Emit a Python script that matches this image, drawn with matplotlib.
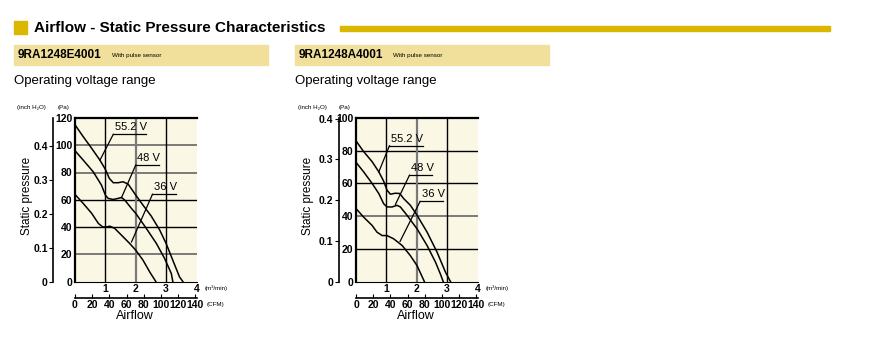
import matplotlib
matplotlib.use("Agg")
import matplotlib.pyplot as plt
from matplotlib.patches import Rectangle

plt.rcParams["font.family"] = ["Liberation Sans", "DejaVu Sans"]

W, H = 885, 353

# --- data: airflow (m3/min) vs static pressure (Pa) ---
e_552_x = [0, 0.27, 0.55, 0.82, 1.0, 1.13, 1.26, 1.42, 1.58, 1.75, 2.0, 2.24, 2.51, 2.79, 3.0, 3.22, 3.44, 3.55]
e_552_y = [115, 106.3, 97.7, 89.1, 82.3, 75.7, 72.5, 72.5, 73.2, 71.5, 63.4, 56, 48, 37.7, 27.9, 15.6, 3.4, 0]
e_48_x = [0, 0.27, 0.6, 0.87, 1.0, 1.09, 1.26, 1.42, 1.53, 1.64, 1.86, 2.0, 2.35, 2.68, 2.95, 3.17, 3.22]
e_48_y = [96, 89.1, 80.5, 70.8, 63.4, 61, 60.2, 61, 61.7, 59.7, 53.6, 50, 38.9, 27.9, 16.9, 5.9, 0]
e_36_x = [0, 0.27, 0.55, 0.77, 0.91, 1.04, 1.15, 1.31, 1.53, 1.8, 2.0, 2.24, 2.46, 2.66]
e_36_y = [63.9, 57.3, 50, 42.6, 40.1, 40.1, 40.6, 38.9, 34, 27.9, 23, 15.6, 7, 0]

a_552_x = [0, 0.25, 0.53, 0.75, 0.91, 1.02, 1.13, 1.3, 1.44, 1.57, 1.79, 2.01, 2.34, 2.67, 2.95, 3.11]
a_552_y = [86, 79.5, 73.3, 67.1, 61.4, 55.9, 53.4, 54, 53.8, 50.7, 46.6, 40.5, 30.2, 17.9, 5.5, 0]
a_48_x = [0, 0.25, 0.53, 0.75, 0.91, 1.02, 1.19, 1.35, 1.46, 1.68, 2.01, 2.34, 2.62, 2.78, 2.87]
a_48_y = [72.9, 67.1, 60, 53.8, 47.6, 45.6, 45.6, 46.6, 45.6, 40.5, 32.2, 22, 11.7, 4.5, 0]
a_36_x = [0, 0.25, 0.53, 0.69, 0.86, 1.02, 1.24, 1.52, 1.79, 2.01, 2.25]
a_36_y = [44.6, 39.4, 34.3, 30.2, 28.1, 28.1, 26.1, 22, 15.8, 9.7, 0]

voltages = ["55.2 V", "48 V", "36 V"]
# label underline (x0, x1, y) and leader target (x, y)
e_labels = [(1.26, 2.33, 108, 0.82, 89), (2.0, 2.77, 85.5, 1.53, 61.5), (2.55, 3.33, 64, 1.86, 29)]
a_labels = [(1.1, 2.2, 83, 0.75, 67), (1.76, 2.5, 65, 1.3, 47.2), (2.11, 2.87, 49, 1.45, 24.5)]

models = ["9RA1248E4001", "9RA1248A4001"]
pa_ticks_e = [0, 20, 40, 60, 80, 100, 120]
pa_ticks_a = [0, 20, 40, 60, 80, 100]
inch_ticks_e = [0, 0.1, 0.2, 0.3, 0.4]
inch_ticks_a = [0, 0.1, 0.2, 0.3, 0.4]
cfm_ticks = [0, 20, 40, 60, 80, 100, 120, 140]
m3_ticks = [1, 2, 3, 4]

PA_PER_INCH = 249.09
CFM_PER_M3 = 35.315

CREAM = "#FBF7E5"
BAND = "#F0E09C"
GOLD = "#DBB700"
GRAY = "#7a7a7a"
NARROW = ["Liberation Sans Narrow", "Liberation Sans", "DejaVu Sans"]


def fx(px):
    return px / W


def fy(py):
    return 1 - py / H


def style_ticks(labels):
    for t in labels:
        t.set_family(NARROW)
        t.set_fontweight("bold")
        t.set_fontsize(7.5)


fig = plt.figure(figsize=(W / 100, H / 100), dpi=100)

# header
fig.patches.append(Rectangle((fx(14), fy(34)), 13 / W, 13 / H, transform=fig.transFigure,
                             color=GOLD, zorder=0))
fig.text(fx(34), fy(27.5), "Airflow - Static Pressure Characteristics", fontsize=11,
         fontweight="bold", va="center", ha="left")
fig.patches.append(Rectangle((fx(340), fy(31)), 490 / W, 5 / H, transform=fig.transFigure,
                             color=GOLD, zorder=0))


def draw_chart(band_x, axl, model, sens_px, curves, labels, ymax, pa_ticks, inch_ticks,
               hgrid_dark, inch_off, cfm_off):
    fig.patches.append(Rectangle((fx(band_x), fy(65)), 254 / W, 20 / H, transform=fig.transFigure,
                                 color=BAND, zorder=0))
    fig.text(fx(band_x + 4), fy(55.5), model, fontsize=8.5, fontweight="bold", va="center")
    fig.text(fx(sens_px), fy(56), "With pulse sensor", fontsize=4.5, va="center")
    fig.text(fx(band_x), fy(81), "Operating voltage range", fontsize=9.5, va="center")

    ax = fig.add_axes([fx(axl), fy(281.5), 121.5 / W, 163.5 / H])
    ax.set_facecolor(CREAM)
    ax.set_xlim(0, 4)
    ax.set_ylim(0, ymax)

    for v in pa_ticks[1:-1]:
        dark = v in hgrid_dark
        ax.axhline(v, color="black" if dark else GRAY, lw=1.0 if dark else 1.4, zorder=1)
    for v in m3_ticks[:-1]:
        dark = v != 2
        ax.axvline(v, color="black" if dark else GRAY, lw=1.0 if dark else 1.6, zorder=1)

    for (xs, ys) in curves:
        ax.plot(xs, ys, color="black", lw=1.1, zorder=3, clip_on=False)

    for name, (x0, x1, yl, tx, ty) in zip(voltages, labels):
        ax.plot([x0, x1], [yl, yl], color="black", lw=0.9, zorder=4)
        ax.plot([x0, tx], [yl, ty], color="black", lw=0.9, zorder=4)
        ax.text(x0 + 0.05, yl + ymax * 0.012, name, fontsize=8, ha="left", va="bottom", zorder=5)

    ax.spines["right"].set_visible(False)
    ax.spines["left"].set_linewidth(1.6)
    ax.spines["top"].set_linewidth(1.6)
    ax.spines["bottom"].set_linewidth(0.8)

    ax.set_yticks(pa_ticks)
    ax.set_yticklabels([str(v) for v in pa_ticks])
    ax.set_xticks(m3_ticks)
    ax.set_xticklabels([str(v) for v in m3_ticks])
    ax.tick_params(axis="both", length=0, pad=2)
    style_ticks(ax.get_xticklabels() + ax.get_yticklabels())

    sy = ax.secondary_yaxis(inch_off, functions=(lambda p: p / PA_PER_INCH, lambda i: i * PA_PER_INCH))
    sy.set_yticks(inch_ticks)
    sy.set_yticklabels(["0" if v == 0 else f"{v:.1f}" for v in inch_ticks])
    sy.tick_params(axis="y", length=3, width=0.8, pad=1)
    sy.spines["left"].set_linewidth(1.2)
    style_ticks(sy.get_yticklabels())

    sx = ax.secondary_xaxis(cfm_off, functions=(lambda m: m * CFM_PER_M3, lambda c: c / CFM_PER_M3))
    sx.set_xticks(cfm_ticks)
    sx.set_xticklabels([str(v) for v in cfm_ticks])
    sx.tick_params(axis="x", direction="in", length=3, width=0.8, pad=1.5)
    sx.spines["bottom"].set_linewidth(1.2)
    style_ticks(sx.get_xticklabels())

    fig.text(fx(axl + 130), fy(288), "(m³/min)", fontsize=4.5, va="center")
    fig.text(fx(axl + 132), fy(304.5), "(CFM)", fontsize=4.5, va="center")
    fig.text(fx(axl - 58), fy(107), "(inch H\u2082O)", fontsize=4.5, va="center")
    fig.text(fx(axl - 17), fy(107), "(Pa)", fontsize=4.5, va="center")
    fig.text(fx(axl - 48), fy(196), "Static pressure", fontsize=8.5, rotation=90,
             va="center", ha="center")
    fig.text(fx(axl + 60), fy(316), "Airflow", fontsize=9, va="center", ha="center")
    return ax


draw_chart(14, 75, models[0], 112,
           [(e_552_x, e_552_y), (e_48_x, e_48_y), (e_36_x, e_36_y)],
           e_labels, 120, pa_ticks_e, inch_ticks_e, [40, 60], -0.178, -0.098)
draw_chart(295, 356, models[1], 393,
           [(a_552_x, a_552_y), (a_48_x, a_48_y), (a_36_x, a_36_y)],
           a_labels, 100, pa_ticks_a, inch_ticks_a, [20, 60, 80], -0.14, -0.098)

fig.savefig("out.png", dpi=100)
